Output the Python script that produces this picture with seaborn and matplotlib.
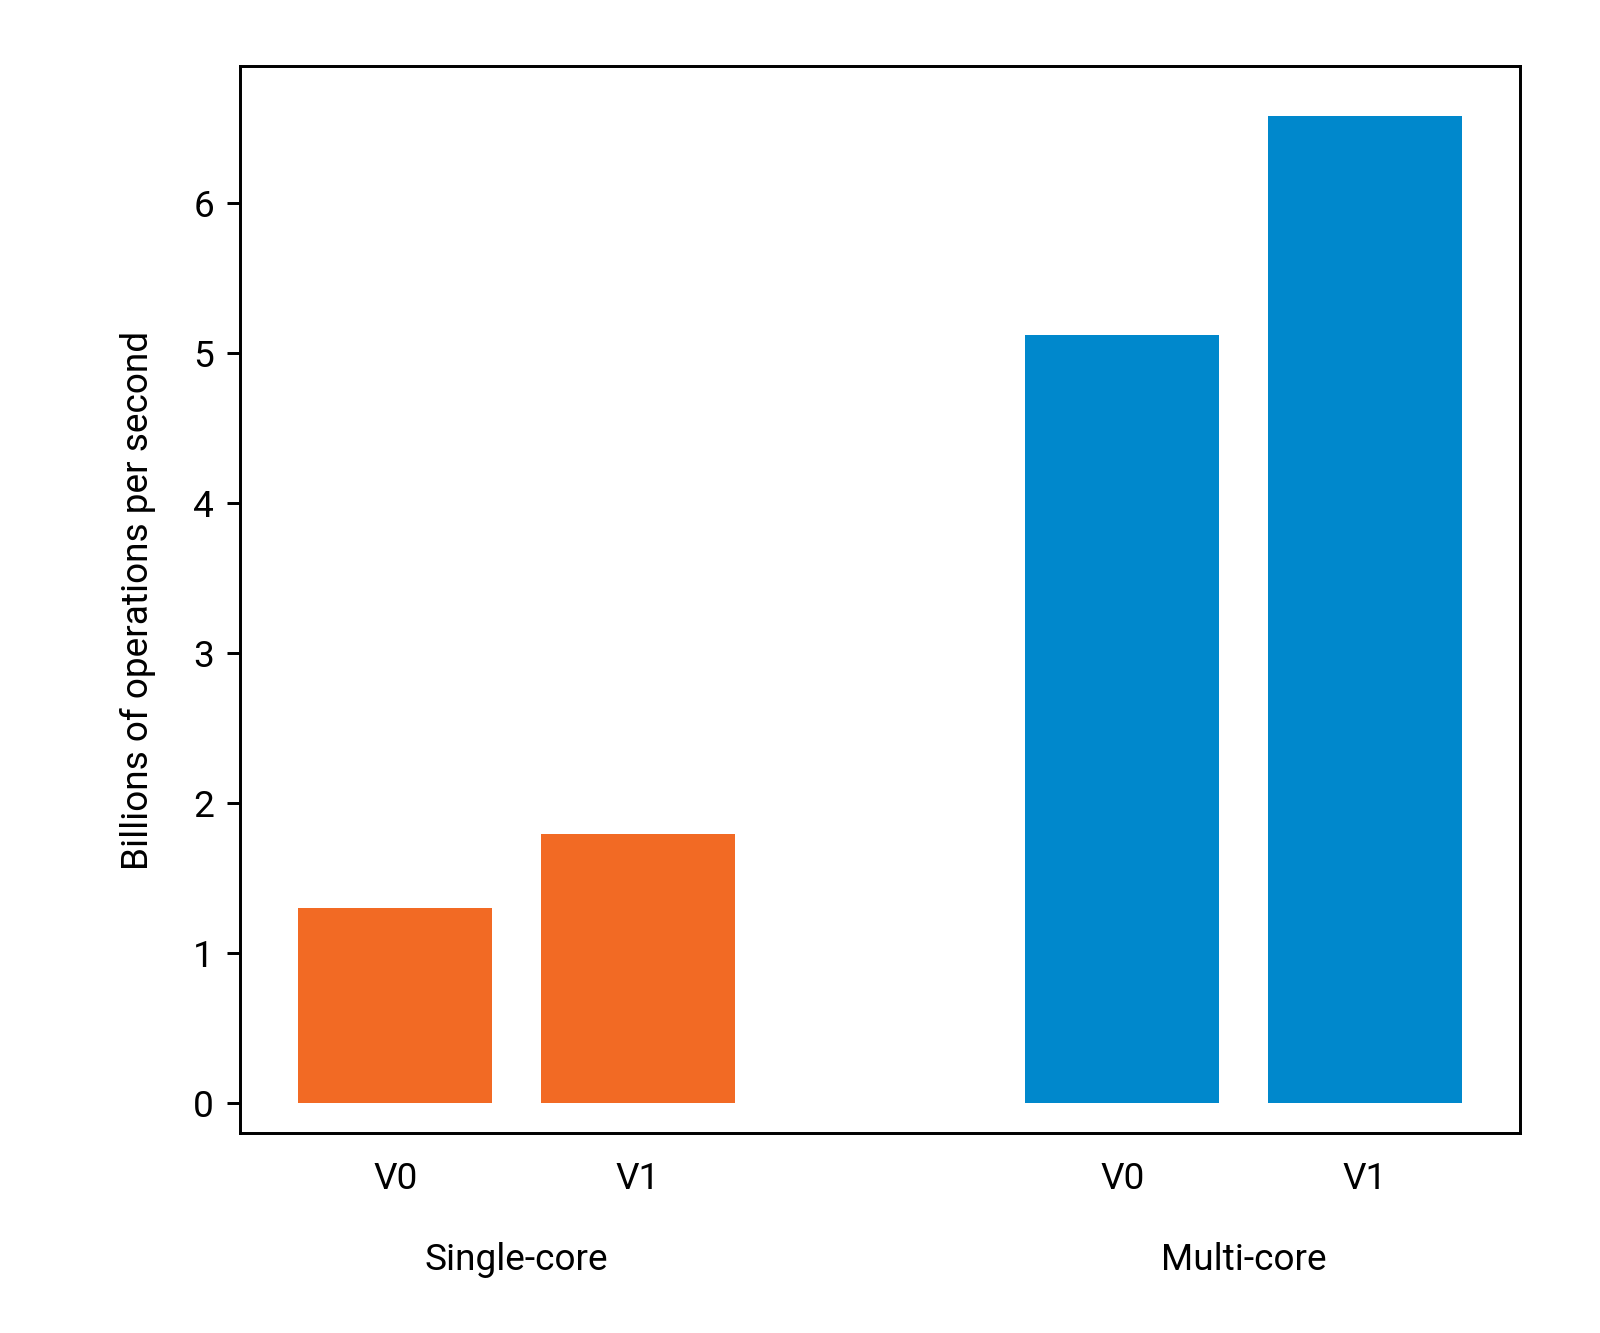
import pandas as pd
import matplotlib.pyplot as plt
import matplotlib.transforms as mtransforms
import seaborn as sns

# Daten
groups = ["Single-core", "Multi-core"]
versions = ["V0", "V1"]
single_core = [1.30, 1.79]
multi_core = [5.12, 6.58]
group_colors = {"Single-core": "#F26A24", "Multi-core": "#0088CC"}

# Tabelle bauen: Gruppen mit einer Lücke dazwischen
rows = []
for gi, (g, vals) in enumerate(zip(groups, [single_core, multi_core])):
    for vi, (v, val) in enumerate(zip(versions, vals)):
        rows.append({"pos": gi * (len(versions) + 1) + vi, "Version": v,
                     "Gruppe": g, "Wert": val})
df = pd.DataFrame(rows)

sns.set_style("ticks")
plt.rcParams["font.family"] = ["Roboto", "DejaVu Sans"]
plt.rcParams["font.size"] = 10
for key in ["text.color", "axes.labelcolor", "xtick.color", "ytick.color", "axes.edgecolor"]:
    plt.rcParams[key] = "black"

fig, ax = plt.subplots(figsize=(6, 5), dpi=266.67)
fig.subplots_adjust(left=0.15, right=0.95, top=0.95, bottom=0.15)

sns.barplot(data=df, x="pos", y="Wert", hue="Gruppe", palette=group_colors,
            native_scale=True, width=0.8, saturation=1, linewidth=0,
            legend=False, ax=ax)

ax.set_xlim(-0.64, 4.64)
ax.set_ylim(-0.2, 6.91)
ax.set_xticks(df["pos"])
ax.set_xticklabels(df["Version"])
ax.tick_params(axis="x", length=0, pad=7.5, labelsize=10)
ax.tick_params(axis="y", labelsize=10)
ax.set_xlabel("")
ax.set_ylabel("Billions of operations per second", fontsize=10, labelpad=10)

# Gruppenbeschriftung unter den Ticks
trans = mtransforms.blended_transform_factory(ax.transData, ax.transAxes)
for g, sub in df.groupby("Gruppe", sort=False):
    ax.text(sub["pos"].mean(), -0.128, g, transform=trans, ha="center",
            va="baseline", fontsize=10)

plt.savefig("out.png", dpi=266.67)
